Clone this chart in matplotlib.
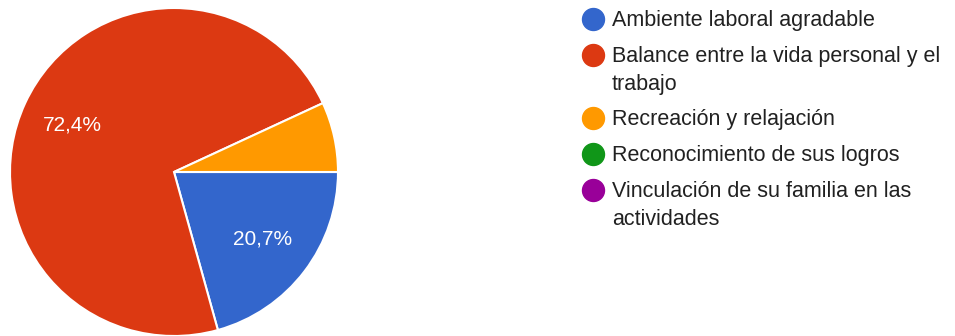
import matplotlib.pyplot as plt

plt.rcParams['font.family'] = ['Liberation Sans', 'DejaVu Sans']

categories = [
    "Ambiente laboral agradable",
    "Balance entre la vida personal y el trabajo",
    "Recreación y relajación",
    "Reconocimiento de sus logros",
    "Vinculación de su familia en las actividades",
]
legend_labels = [
    "Ambiente laboral agradable",
    "Balance entre la vida personal y el\ntrabajo",
    "Recreación y relajación",
    "Reconocimiento de sus logros",
    "Vinculación de su familia en las\nactividades",
]
responses = [6, 21, 2, 0, 0]
colors = ["#3366cc", "#dc3912", "#ff9900", "#109618", "#990099"]

W, H = 955, 336

fig = plt.figure(figsize=(W / 100, H / 100), dpi=100)
ax = fig.add_axes([0, 0, 1, 1])

# only non-empty slices go in the pie
vals = [v for v in responses if v > 0]
cols = [c for v, c in zip(responses, colors) if v > 0]


def pct_label(p):
    if p < 10:
        return ""
    return f"{p:.1f}%".replace(".", ",")


wedges, _, autotexts = ax.pie(
    vals,
    colors=cols,
    startangle=0,
    counterclock=False,
    center=(174, H - 172),
    radius=164,
    autopct=pct_label,
    pctdistance=0.68,
    wedgeprops={"edgecolor": "white", "linewidth": 1.5},
    textprops={"color": "white", "fontsize": 15},
)

# legend drawn by hand, Google Forms style
y = 19
for lab, col in zip(legend_labels, colors):
    ax.scatter([593], [H - y], s=250, color=col, zorder=3)
    for i, line in enumerate(lab.split("\n")):
        ax.text(612, H - (y + 28 * i) - 7, line, fontsize=15.5,
                color="#212121", va="baseline", ha="left")
    y += 36 + 27 * lab.count("\n")

ax.set_xlim(0, W)
ax.set_ylim(0, H)
ax.set_aspect("equal")
ax.axis("off")

fig.savefig("out.png", dpi=100)
